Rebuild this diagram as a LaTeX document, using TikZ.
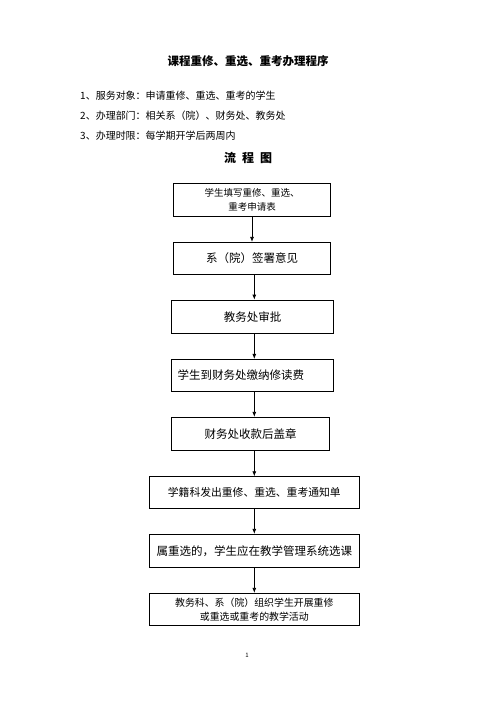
\documentclass[tikz,border=0pt]{standalone}
\usepackage{fontspec}
\setmainfont{Noto Sans CJK SC}
\usetikzlibrary{arrows.meta}
\begin{document}
\begin{tikzpicture}[x=1pt,y=-1pt,
  box/.style={draw, line width=0.8pt, inner sep=0pt, align=center, font=\fontsize{11.5}{14}\selectfont},
  flow/.style={line width=0.8pt, -{Latex[length=5pt,width=4pt]}},
  hd/.style={font=\fontsize{10}{12}\selectfont, anchor=west, inner sep=0pt}]
\useasboundingbox (0,0) rectangle (496,702);
\node[font=\bfseries\fontsize{11.5}{14}\selectfont, inner sep=0pt] (title) at (248,61) {课程重修、重选、重考办理程序};
\node[hd] (l1) at (80,96) {1、服务对象：申请重修、重选、重考的学生};
\node[hd] (l2) at (80,116) {2、办理部门：相关系（院）、财务处、教务处};
\node[hd] (l3) at (80,135.5) {3、办理时限：每学期开学后两周内};
\node[font=\bfseries\fontsize{12}{14}\selectfont, inner sep=0pt] (lct) at (248,158) {流\hspace{0.5em}程\hspace{0.5em}图};

\node[box, minimum width=157.4pt, minimum height=32.7pt, font=\fontsize{9.5}{13.5}\selectfont] (b1) at (252,199.7) {学生填写重修、重选、\\重考申请表};
\node[box, minimum width=157.4pt, minimum height=32pt] (b2) at (252,258.3) {系（院）签署意见};
\node[box, minimum width=161.6pt, minimum height=33.3pt] (b3) at (252.5,316.7) {教务处审批};
\node[box, minimum height=31.7pt, text width=149.6pt, inner xsep=6pt, align=left] (b4) at (252.5,375.2) {学生到财务处缴纳修读费};
\node[box, minimum width=157.6pt, minimum height=33pt] (b5) at (250.5,433.8) {财务处收款后盖章};
\node[box, minimum width=210pt, minimum height=31.6pt, font=\fontsize{10.8}{13}\selectfont] (b6) at (254.3,492.5) {学籍科发出重修、重选、重考通知单};
\node[box, minimum width=210pt, minimum height=33pt] (b7) at (254.3,550.8) {属重选的，学生应在教学管理系统选课};
\node[box, minimum width=210pt, minimum height=32.4pt, font=\fontsize{9.9}{13.5}\selectfont] (b8) at (254.3,609.5) {教务科、系（院）组织学生开展重修\\或重选或重考的教学活动};

\draw[flow] (b1.south) -- (b1.south |- b2.north);
\foreach \a/\b in {b2/b3,b3/b4,b4/b5,b5/b6,b6/b7,b7/b8}
  \draw[flow] (\a.south -| b6.center) -- (\b.north -| b6.center);

\node[font=\fontsize{6}{7}\selectfont, inner sep=0pt] (pg) at (247,655) {1};
\end{tikzpicture}
\end{document}
